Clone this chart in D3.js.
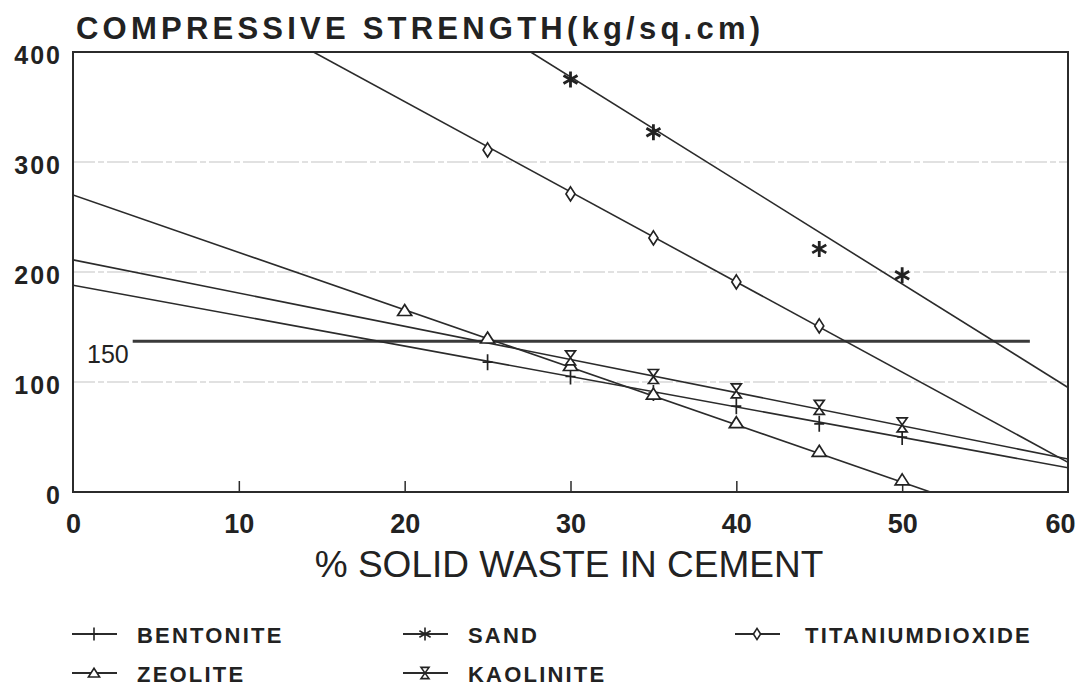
<!DOCTYPE html>
<html>
<head>
<meta charset="utf-8">
<script src="https://cdn.jsdelivr.net/npm/d3@7"></script>
<style>
  body { margin: 0; background: #fff; }
  svg { display: block; font-family: "Liberation Sans", Arial, sans-serif; }
</style>
</head>
<body>
<div id="chart"></div>
<script>
// measured points (% solid waste -> kg/sq.cm)
const bentoniteX = [25, 30, 35, 40, 45, 50]
const bentoniteY = [118, 105, 90, 78, 62, 50]
const sandX = [30, 35, 45, 50]
const sandY = [375, 327, 221, 197]
const titaniumX = [25, 30, 35, 40, 45]
const titaniumY = [311, 271, 231, 191, 151]
const zeoliteX = [20, 25, 30, 35, 40, 45, 50]
const zeoliteY = [165, 140, 115, 89, 63, 37, 11]
const kaoliniteX = [30, 35, 40, 45, 50]
const kaoliniteY = [122, 105, 92, 77, 61]

// fitted lines, end points
const bentoniteFitX = [0, 60]
const bentoniteFitY = [188, 22]
const sandFitX = [27.6, 60]
const sandFitY = [400, 95]
const titaniumFitX = [14.5, 60]
const titaniumFitY = [400, 27]
const zeoliteFitX = [0, 51.7]
const zeoliteFitY = [270, 0]
const kaoliniteFitX = [0, 60]
const kaoliniteFitY = [211, 30]

// reference level
const limitX = [3.6, 57.7]
const limitValue = 137
const limitLabel = "150"

const xTicks = [0, 10, 20, 30, 40, 50, 60]
const yTicks = [0, 100, 200, 300, 400]
const gridValues = [100, 200, 300]

const width = 1082
const height = 691
const ink = "#2b2b2b"

const svg = d3.select("#chart").append("svg")
  .attr("width", width)
  .attr("height", height)

const x = d3.scaleLinear().domain([0, 60]).range([73, 1068])
const y = d3.scaleLinear().domain([0, 400]).range([492, 52])

const zip = (xs, ys) => xs.map((v, i) => ({ x: v, y: ys[i] }))

const series = [
  { name: "BENTONITE", pts: zip(bentoniteX, bentoniteY), fit: zip(bentoniteFitX, bentoniteFitY), sym: "plus" },
  { name: "SAND", pts: zip(sandX, sandY), fit: zip(sandFitX, sandFitY), sym: "star" },
  { name: "TITANIUMDIOXIDE", pts: zip(titaniumX, titaniumY), fit: zip(titaniumFitX, titaniumFitY), sym: "diamond" },
  { name: "ZEOLITE", pts: zip(zeoliteX, zeoliteY), fit: zip(zeoliteFitX, zeoliteFitY), sym: "triangle" },
  { name: "KAOLINITE", pts: zip(kaoliniteX, kaoliniteY), fit: zip(kaoliniteFitX, kaoliniteFitY), sym: "hourglass" }
]

// marker paths centred on 0,0
function symbolPath(kind) {
  switch (kind) {
    case "plus": return "M0,-8V8M-5,0H5"
    case "star": return "M0,-8V8M-7,-4L7,4M-7,4L7,-4"
    case "diamond": return "M0,-7L4.5,0L0,7L-4.5,0Z"
    case "triangle": return "M0,-6L7,5H-7Z"
    case "hourglass": return "M-5,-7H5L-5,7H5Z"
  }
}

// grid
svg.append("g").selectAll("line")
  .data(gridValues)
  .join("line")
  .attr("x1", x(0)).attr("x2", x(60))
  .attr("y1", d => y(d)).attr("y2", d => y(d))
  .attr("stroke", "#c4c4c4")
  .attr("stroke-width", 1.2)
  .attr("stroke-dasharray", "22,3,6,3")

// frame
svg.append("rect")
  .attr("x", x(0)).attr("y", y(400))
  .attr("width", x(60) - x(0)).attr("height", y(0) - y(400))
  .attr("fill", "none")
  .attr("stroke", ink)
  .attr("stroke-width", 2)

// bottom axis ticks (inward) and labels
svg.append("g")
  .attr("transform", "translate(0," + y(0) + ")")
  .call(d3.axisBottom(x).tickValues(xTicks).tickSize(-11).tickPadding(22).tickFormat(d => d))
  .call(g => g.select(".domain").remove())
  .call(g => g.selectAll(".tick line").attr("stroke", ink).attr("stroke-width", 1.5)
    .filter(d => d === 0 || d === 60).remove())
  .call(g => g.selectAll("text")
    .attr("fill", "#222")
    .attr("dx", d => d === 60 ? -8 : 0)
    .style("font-size", "27px")
    .style("font-weight", "600"))

// left axis labels
svg.append("g")
  .attr("transform", "translate(" + x(0) + ",0)")
  .call(d3.axisLeft(y).tickValues(yTicks).tickSize(0).tickPadding(11))
  .call(g => g.select(".domain").remove())
  .call(g => g.selectAll("text")
    .attr("fill", "#222")
    .attr("dy", "0.45em")
    .style("font-size", "25px")
    .style("font-weight", "bold")
    .style("letter-spacing", "2px"))

// title
svg.append("text")
  .attr("x", 76).attr("y", 39)
  .attr("textLength", 684)
  .attr("lengthAdjust", "spacing")
  .attr("fill", "#222")
  .style("font-size", "31px")
  .style("font-weight", "bold")
  .text("COMPRESSIVE STRENGTH(kg/sq.cm)")

// x label
svg.append("text")
  .attr("x", 569).attr("y", 577)
  .attr("text-anchor", "middle")
  .attr("fill", "#222")
  .style("font-size", "37px")
  .text("% SOLID WASTE IN CEMENT")

// reference level line
svg.append("line")
  .attr("x1", x(limitX[0])).attr("x2", x(limitX[1]))
  .attr("y1", y(limitValue)).attr("y2", y(limitValue))
  .attr("stroke", "#3a3a3a")
  .attr("stroke-width", 3)

svg.append("text")
  .attr("x", 87).attr("y", y(limitValue) + 22)
  .attr("fill", "#222")
  .style("font-size", "25px")
  .text(limitLabel)

// fitted lines, clipped to the frame
svg.append("clipPath").attr("id", "plot")
  .append("rect")
  .attr("x", x(0)).attr("y", y(400))
  .attr("width", x(60) - x(0)).attr("height", y(0) - y(400))

const line = d3.line().x(d => x(d.x)).y(d => y(d.y))

const plot = svg.append("g").attr("clip-path", "url(#plot)")

plot.selectAll(".fit")
  .data(series)
  .join("path")
  .attr("class", "fit")
  .attr("d", d => line(d.fit))
  .attr("fill", "none")
  .attr("stroke", ink)
  .attr("stroke-width", 1.6)

// markers
series.forEach(s => {
  svg.append("g").selectAll("path")
    .data(s.pts)
    .join("path")
    .attr("transform", d => "translate(" + x(d.x) + "," + y(d.y) + ")")
    .attr("d", symbolPath(s.sym))
    .attr("fill", s.sym === "star" ? "none" : "#fff")
    .attr("stroke", "#222")
    .attr("stroke-width", s.sym === "star" ? 2.8 : 1.7)
})

// legend
const legendPos = [
  { lx: 72, tx: 137, y: 634 },
  { lx: 403, tx: 468, y: 634 },
  { lx: 735, tx: 805, y: 634 },
  { lx: 72, tx: 137, y: 673 },
  { lx: 403, tx: 468, y: 673 }
]

const legend = svg.append("g")
series.forEach((s, i) => {
  const p = legendPos[i]
  const g = legend.append("g")
  g.append("line")
    .attr("x1", p.lx).attr("x2", p.lx + 45)
    .attr("y1", p.y).attr("y2", p.y)
    .attr("stroke", ink)
    .attr("stroke-width", 1.8)
  g.append("path")
    .attr("transform", "translate(" + (p.lx + 22) + "," + p.y + ") scale(0.8)")
    .attr("d", symbolPath(s.sym))
    .attr("fill", s.sym === "star" ? "none" : "#fff")
    .attr("stroke", "#222")
    .attr("stroke-width", 2)
  g.append("text")
    .attr("x", p.tx).attr("y", p.y + 9)
    .attr("fill", "#222")
    .style("font-size", "22px")
    .style("font-weight", "600")
    .style("letter-spacing", "2.2px")
    .text(s.name)
})
</script>
</body>
</html>
